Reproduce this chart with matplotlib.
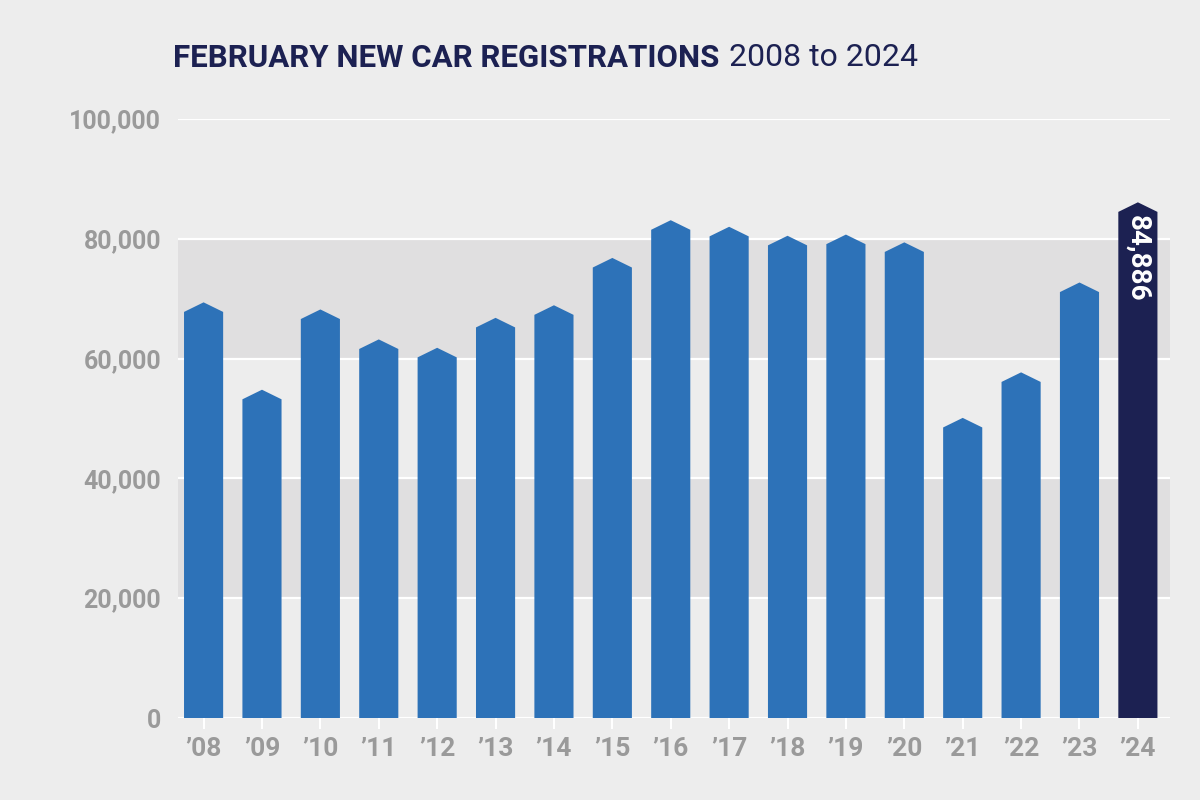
import matplotlib
matplotlib.use("Agg")
import matplotlib.pyplot as plt
from matplotlib.patches import Polygon
from matplotlib.ticker import FuncFormatter

years = ["’08", "’09", "’10", "’11", "’12", "’13", "’14", "’15", "’16",
         "’17", "’18", "’19", "’20", "’21", "’22", "’23", "’24"]
values = [68187, 53600, 67000, 62000, 60600, 65600, 67700, 75600, 81900,
          80800, 79300, 79500, 78200, 48900, 56500, 71500, 84886]
highlight_label = "84,886"
yticks = [0, 20000, 40000, 60000, 80000, 100000]
bands = [(20000, 40000), (60000, 80000)]
title_bold = "FEBRUARY NEW CAR REGISTRATIONS"
title_light = "2008 to 2024"

BG = "#EDEDED"
BAND = "#E0DFE0"
BLUE = "#2D72B8"
NAVY = "#1C2152"
GREY = "#9A9A9A"

fig = plt.figure(figsize=(12, 8), dpi=100, facecolor=BG)
ax = fig.add_axes([0.148, 0.1025, 0.827, 0.7488])
ax.set_facecolor(BG)
ax.set_xlim(-0.445, len(values) - 1 + 0.55)
ax.set_ylim(0, 100000)

for lo, hi in bands:
    ax.axhspan(lo, hi, color=BAND, lw=0, zorder=0)
for t in yticks:
    ax.axhline(t, color="white", lw=1.6, zorder=1)

w = 0.335
tip = 1600
for i, v in enumerate(values):
    col = NAVY if i == len(values) - 1 else BLUE
    shoulder = v - 400
    pts = [(i - w, 0), (i - w, shoulder), (i, shoulder + tip), (i + w, shoulder), (i + w, 0)]
    ax.add_patch(Polygon(pts, closed=True, facecolor=col, edgecolor="none", zorder=2))

last = len(values) - 1
ax.text(last, values[last] - 1000, highlight_label, rotation=270, ha="center", va="top",
        color="white", fontsize=20, fontweight="bold", family="Roboto", zorder=3)

for s in ax.spines.values():
    s.set_visible(False)
ax.set_yticks(yticks)
ax.yaxis.set_major_formatter(FuncFormatter(lambda x, p: f"{int(x):,}"))
ax.tick_params(axis="y", length=0, pad=12, labelsize=18, labelcolor=GREY)
ax.set_xticks(range(len(values)))
ax.set_xticklabels(years)
ax.tick_params(axis="x", length=8, width=1.5, color="white", pad=6, labelsize=19, labelcolor=GREY)
for lab in ax.get_yticklabels() + ax.get_xticklabels():
    lab.set_fontweight("bold")
    lab.set_family("Roboto")

t1 = fig.text(0.144, 0.928, title_bold, fontsize=22.5, fontweight="bold",
              color=NAVY, family="Roboto", va="center", ha="left")
fig.canvas.draw()
bb = t1.get_window_extent(renderer=fig.canvas.get_renderer())
x2 = (bb.x1 + 10) / fig.bbox.width
fig.text(x2, 0.928, title_light, fontsize=23, color=NAVY, family="Roboto",
         fontweight="normal", va="center", ha="left")

fig.savefig("out.png", dpi=100, facecolor=BG)
